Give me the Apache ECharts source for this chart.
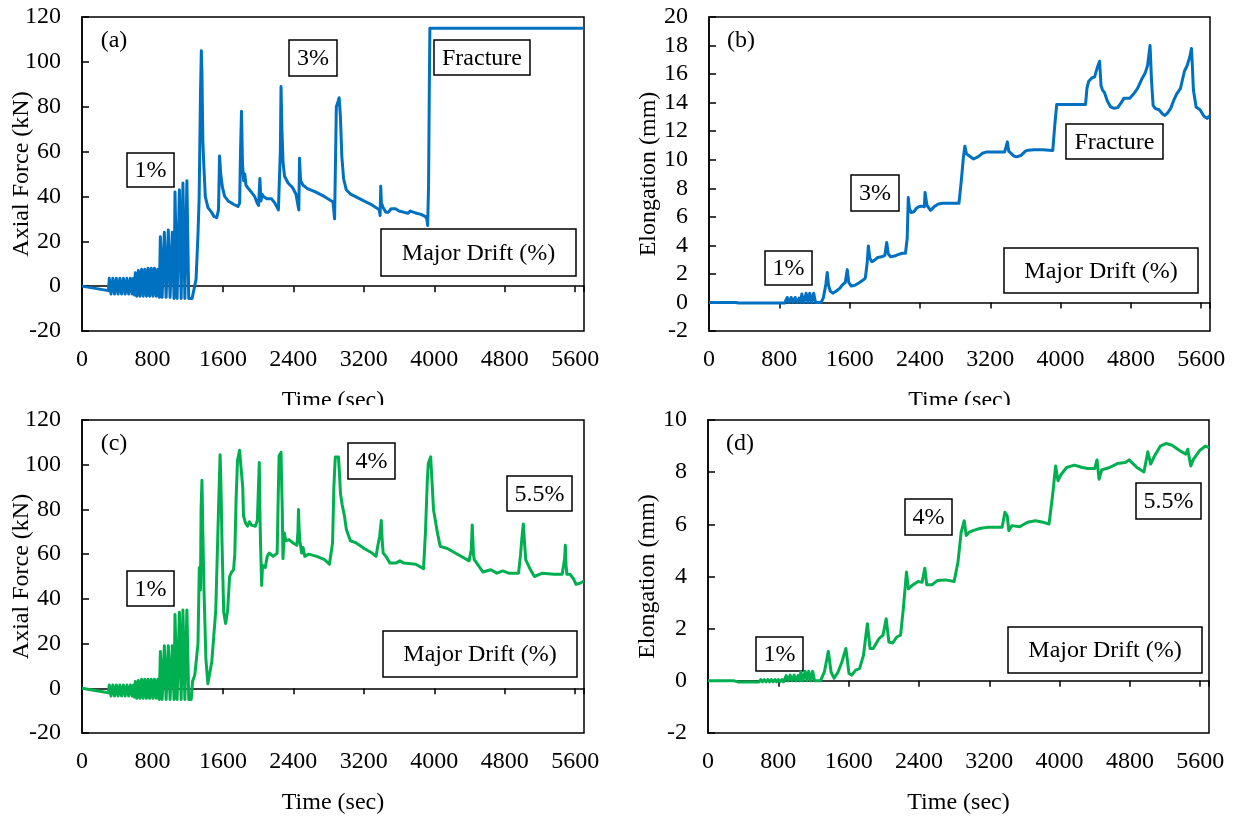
<!DOCTYPE html>
<html>
<head>
<meta charset="utf-8">
<script src="https://cdn.jsdelivr.net/npm/echarts@6/dist/echarts.min.js"></script>
<style>
html,body{margin:0;padding:0;background:#fff;}
#chart{width:1233px;height:818px;}
</style>
</head>
<body>
<div id="chart"></div>
<script>
// ---------------- DATA ----------------
const timeTicks = [0, 800, 1600, 2400, 3200, 4000, 4800, 5600];
const panelLetters = ['(a)', '(b)', '(c)', '(d)'];
const yTitles = ['Axial Force (kN)', 'Elongation (mm)', 'Axial Force (kN)', 'Elongation (mm)'];
const xTitle = 'Time (sec)';

// (a) Axial force, specimen 1 (kN) — [time s, value]
const forceA = [
[0,0],[300,-2],
[310,3.5],[330,-3.5],[350,3.5],[370,-3.5],[390,3.5],[410,-3.5],[430,3.5],[450,-3.5],[470,3.5],[490,-3.5],[510,3.5],[530,-3.5],[550,3.5],[570,-3.5],[585,3.5],[597,-4],
[605,6],[622,-4.5],[640,7],[658,-4.5],[677,7.5],[695,-4.5],[713,7.5],[732,-4.5],[750,8],[768,-4.5],[787,8],[805,-4.5],[823,8],[842,-4.5],[860,7.5],[877,-5],
[890,22],[910,-5],[935,24],[955,-5],[980,25],[1000,-5],[1025,24],[1045,-5.5],
[1056,42],[1080,-5.5],[1106,43],[1126,-5.5],[1146,46],[1168,-5.5],[1191,47],[1212,-5.5],[1250,-5.5],[1272,-5],
[1295,3],[1317,23],[1330,39],[1345,85],[1355,105],[1362,95],[1372,65],[1382,55],[1400,40],[1430,35],[1470,33],[1500,31],[1530,30.5],[1550,34],[1562,58],[1575,50],[1595,44],[1620,40],[1660,38],[1720,36.5],[1770,35.5],[1790,37],[1800,60],[1811,78],[1822,55],[1835,47],[1848,50],[1862,45],[1880,44],[1920,42],[1960,40],[1990,37],[2005,36],[2020,48],[2032,38],[2045,41],[2060,40],[2100,39],[2150,39],[2190,37],[2230,34],[2245,33.5],[2252,60],[2260,89],[2270,70],[2283,55],[2300,49],[2340,46],[2390,44],[2430,41],[2452,36],[2462,34],[2470,57],[2482,47],[2510,45],[2560,43.5],[2650,42],[2750,40],[2810,38.5],[2850,37.5],[2868,30],[2880,60],[2888,80],[2905,82],[2920,84],[2935,75],[2950,58],[2970,48],[3000,43],[3050,41],[3100,40],[3200,38],[3280,36.5],[3340,35],[3375,34],[3385,31.5],[3392,44.5],[3400,37],[3420,35],[3450,33],[3480,33],[3510,34.5],[3560,34.5],[3600,33.5],[3650,33],[3700,32.5],[3730,33.5],[3760,33],[3800,32.5],[3850,32],[3900,31],[3915,30],[3925,27],[3935,45],[3943,85],[3950,115],[5700,115]
];

// (b) Elongation, specimen 1 (mm)
const elongB = [
[0,0],[300,0],
[320,0.06],[340,-0.04],[360,0.06],[380,-0.04],[400,0.06],[420,-0.04],[440,0.06],[460,-0.04],[480,0.06],[500,-0.04],[520,0.06],[540,-0.04],[560,0.06],[580,-0.04],[600,0.08],[620,-0.04],[640,0.08],[660,-0.04],[680,0.08],[700,-0.04],[720,0.08],[740,-0.04],[760,0.08],[780,-0.04],[800,0.08],[820,-0.04],[840,0.08],[860,-0.04],[880,0],
[890,0.35],[910,0],[935,0.35],[955,0],[980,0.35],[1000,0],[1025,0.3],[1045,0],
[1056,0.6],[1080,0],[1106,0.65],[1126,0],[1146,0.65],[1168,0],[1191,0.65],[1212,0],[1275,0],
[1300,0.3],[1330,1.3],[1345,2.1],[1360,1.2],[1380,0.8],[1409,0.65],[1450,0.8],[1490,1.0],[1520,1.25],[1550,1.4],[1573,2.3],[1590,1.4],[1618,1.15],[1660,1.2],[1700,1.35],[1750,1.55],[1778,1.7],[1800,2.8],[1813,3.95],[1830,3.1],[1853,2.85],[1890,3.0],[1920,3.15],[1964,3.2],[2000,3.3],[2022,4.2],[2040,3.4],[2067,3.2],[2110,3.25],[2150,3.35],[2200,3.45],[2235,3.45],[2255,4.5],[2267,7.35],[2280,6.6],[2298,6.3],[2330,6.35],[2360,6.6],[2387,6.7],[2420,6.75],[2450,6.7],[2458,7.7],[2467,7.7],[2480,6.8],[2520,6.45],[2560,6.7],[2609,6.9],[2660,6.95],[2750,6.95],[2844,6.95],[2870,8.5],[2895,10.2],[2911,10.95],[2930,10.4],[2955,10.3],[3009,10.05],[3060,10.2],[3110,10.45],[3164,10.55],[3250,10.55],[3364,10.55],[3380,10.6],[3395,11.25],[3410,10.6],[3431,10.5],[3470,10.25],[3497,10.2],[3550,10.3],[3600,10.6],[3631,10.67],[3700,10.7],[3800,10.7],[3911,10.65],[3935,12.5],[3956,13.87],[4284,13.87],[4300,15.0],[4320,15.5],[4360,15.75],[4387,15.8],[4420,16.5],[4444,16.9],[4460,15.2],[4476,14.9],[4500,14.7],[4533,14.1],[4570,13.7],[4609,13.6],[4650,13.65],[4690,14.0],[4720,14.3],[4787,14.3],[4830,14.6],[4876,15.0],[4920,15.6],[4964,16.1],[4990,16.6],[5018,18.0],[5035,15.5],[5053,13.8],[5076,13.6],[5120,13.5],[5160,13.2],[5187,13.1],[5220,13.3],[5253,13.6],[5290,14.2],[5320,14.6],[5364,15.0],[5409,16.2],[5440,16.6],[5470,17.2],[5489,17.8],[5500,16.5],[5511,14.9],[5542,13.7],[5587,13.5],[5631,13.05],[5667,12.9],[5700,13.1]
];

// (c) Axial force, specimen 2 (kN)
const forceC = [
[0,0],[300,-2],
[310,1.5],[330,-3.5],[350,1.5],[370,-3.5],[390,1.5],[410,-3.5],[430,1.5],[450,-3.5],[470,1.5],[490,-3.5],[510,1.5],[530,-3.5],[550,1.5],[570,-3.5],[585,1.5],[597,-4],
[605,3],[622,-4.5],[640,3.5],[658,-4.5],[677,4],[695,-4.5],[713,4],[732,-4.5],[750,4],[768,-4.5],[787,4],[805,-4.5],[823,4],[842,-4.5],[860,4],[877,-5],
[890,16.5],[910,-5],[935,19],[955,-5],[980,19],[1000,-5],[1025,19],[1045,-5],
[1056,33],[1080,-5],[1106,34],[1126,-5],[1146,35],[1168,-5],[1191,35],[1212,-5],[1240,-5],
[1255,3],[1281,6],[1317,20],[1332,54],[1345,44],[1352,80],[1362,93],[1372,70],[1384,46],[1407,13],[1429,2],[1443,1.5],[1474,12],[1519,35],[1550,80],[1568,104.5],[1578,90],[1590,65],[1609,34],[1631,29],[1654,35],[1676,50],[1699,52],[1721,53],[1735,60],[1750,85],[1766,102],[1789,106.5],[1811,106],[1825,90],[1834,77],[1856,74],[1879,72.5],[1901,74.5],[1923,73],[1968,72.5],[1991,75],[2008,95],[2013,101],[2020,80],[2027,65],[2040,46],[2050,55],[2081,54],[2103,59],[2126,60.5],[2171,59],[2216,60.5],[2230,90],[2238,104],[2260,105.5],[2268,90],[2274,80],[2282,58],[2287,57.5],[2296,69.5],[2314,66],[2350,66.5],[2395,65],[2440,64],[2452,70],[2458,80],[2465,72],[2472,66.5],[2494,60.5],[2510,63],[2530,59],[2575,60],[2665,59],[2755,57.5],[2809,55.5],[2845,65],[2860,90],[2876,103.5],[2912,103.5],[2925,95],[2935,87],[2955,82],[2980,77],[3002,71],[3047,66],[3114,65],[3204,62.5],[3294,60.5],[3339,59],[3360,64],[3380,68],[3398,75],[3410,65],[3420,60.5],[3451,59],[3496,56],[3564,56],[3609,57],[3654,56],[3789,55.5],[3878,53.5],[3900,70],[3920,92],[3932,100.5],[3959,103.5],[3975,92],[3991,80],[4036,69.5],[4067,63.5],[4148,62.5],[4238,60.5],[4328,58.5],[4395,57],[4420,62],[4431,73],[4445,60],[4454,57.5],[4508,54.5],[4553,52],[4642,53],[4710,51.5],[4778,52.5],[4845,51.5],[4957,51.5],[4980,60],[4993,66.5],[5011,73.5],[5025,65],[5038,57.5],[5092,53],[5137,50],[5227,51.5],[5362,51],[5452,51],[5480,58],[5488,64],[5496,55],[5506,51],[5541,51],[5580,49],[5609,46.5],[5654,47],[5700,48]
];

// (d) Elongation, specimen 2 (mm)
const elongD = [
[0,0],[300,0],
[320,0.03],[340,-0.04],[360,0.03],[380,-0.04],[400,0.03],[420,-0.04],[440,0.03],[460,-0.04],[480,0.03],[500,-0.04],[520,0.03],[540,-0.04],[560,0.03],[580,-0.04],[600,0.05],[620,-0.04],[640,0.05],[660,-0.04],[680,0.05],[700,-0.04],[720,0.05],[740,-0.04],[760,0.05],[780,-0.04],[800,0.05],[820,-0.04],[840,0.05],[860,-0.04],[880,0],
[890,0.2],[910,0],[935,0.22],[955,0],[980,0.22],[1000,0],[1025,0.2],[1045,0],
[1056,0.35],[1080,0],[1106,0.37],[1126,0],[1146,0.37],[1168,0],[1191,0.37],[1212,0],[1280,0],
[1324,0.34],[1369,1.13],[1400,0.34],[1435,0.1],[1480,0.34],[1524,0.73],[1569,1.24],[1604,0.28],[1636,0.22],[1680,0.41],[1724,0.47],[1769,0.98],[1813,2.19],[1844,1.24],[1880,1.24],[1946,1.62],[1991,1.75],[2027,2.38],[2058,1.49],[2102,1.45],[2147,1.68],[2191,1.75],[2222,2.76],[2258,4.17],[2280,3.53],[2324,3.66],[2391,3.81],[2436,3.78],[2467,4.32],[2489,3.68],[2547,3.68],[2613,3.85],[2702,3.87],[2800,3.81],[2844,4.55],[2880,5.69],[2915,6.14],[2938,5.57],[2969,5.69],[3013,5.76],[3102,5.85],[3191,5.89],[3280,5.89],[3346,5.89],[3378,6.46],[3404,6.33],[3422,5.76],[3458,5.95],[3546,5.91],[3635,6.08],[3724,6.14],[3813,6.08],[3880,6.01],[3924,7.22],[3955,8.24],[3982,7.67],[4013,7.89],[4080,8.18],[4169,8.27],[4258,8.18],[4324,8.14],[4400,8.14],[4426,8.47],[4449,7.73],[4480,8.09],[4569,8.18],[4658,8.33],[4747,8.37],[4791,8.47],[4880,8.18],[4960,8.01],[5004,8.78],[5036,8.31],[5080,8.62],[5147,9.0],[5213,9.1],[5280,9.03],[5369,8.82],[5436,8.69],[5458,8.88],[5493,8.24],[5524,8.5],[5591,8.82],[5658,9.0],[5700,8.94]
];

// Axis ranges
const yMin = [-20, -2, -20, -2];
const yMax = [120, 20, 120, 10];
const yStep = [20, 2, 20, 2];

// Annotation texts per panel
const notesA = ['1%', '3%', 'Fracture', 'Major Drift (%)'];
const notesB = ['1%', '3%', 'Fracture', 'Major Drift (%)'];
const notesC = ['1%', '4%', '5.5%', 'Major Drift (%)'];
const notesD = ['1%', '4%', '5.5%', 'Major Drift (%)'];

// ---------------- LAYOUT / STYLE ----------------
const FONT = '"Liberation Serif", "Times New Roman", serif';
const BLUE = '#0070C0';
const GREEN = '#00B050';
const grids = [
  {left: 82, top: 17, width: 502, height: 314},
  {left: 709, top: 17, width: 501, height: 314},
  {left: 82, top: 420, width: 502, height: 313},
  {left: 708, top: 420, width: 501, height: 313}
];
const seriesData = [forceA, elongB, forceC, elongD];
const colors = [BLUE, BLUE, GREEN, GREEN];

const xAxes = [], yAxes = [], series = [];
grids.forEach((g, i) => {
  xAxes.push({
    gridIndex: i, type: 'value', min: 0, max: 5700, interval: 800, position: 'bottom',
    axisLine: {show: true, onZero: true, lineStyle: {color: '#000', width: 1.5}},
    axisTick: {show: true, inside: false, length: 6, lineStyle: {color: '#000', width: 1.5}},
    axisLabel: {show: false}, splitLine: {show: false}
  });
  xAxes.push({
    gridIndex: i, type: 'value', min: 0, max: 5700, interval: 800, position: 'bottom',
    axisLine: {show: false, onZero: false}, axisTick: {show: false}, splitLine: {show: false},
    axisLabel: {show: true, fontSize: 24, color: '#000', fontFamily: FONT, margin: 17, showMaxLabel: false,
      formatter: v => timeTicks.indexOf(v) >= 0 ? String(v) : ''},
    name: xTitle, nameLocation: 'middle', nameGap: 58, nameMoveOverlap: false,
    nameTextStyle: {fontSize: 24, color: '#000', fontFamily: FONT}
  });
  yAxes.push({
    gridIndex: i, type: 'value', min: yMin[i], max: yMax[i], interval: yStep[i],
    axisLine: {show: true, onZero: false, lineStyle: {color: '#000', width: 1.5}},
    axisTick: {show: true, inside: true, length: 7, lineStyle: {color: '#000', width: 1.5}},
    axisLabel: {fontSize: 24, color: '#000', fontFamily: FONT, margin: 21},
    splitLine: {show: false},
    name: yTitles[i], nameLocation: 'middle', nameGap: 48, nameMoveOverlap: false,
    nameTextStyle: {fontSize: 24, color: '#000', fontFamily: FONT}
  });
  series.push({
    type: 'line', xAxisIndex: 2 * i, yAxisIndex: i, data: seriesData[i],
    showSymbol: false, symbol: 'none', smooth: false,
    lineStyle: {color: colors[i], width: 3, join: 'round'},
    itemStyle: {color: colors[i]}, z: 3
  });
});

// annotation boxes: [x1, y1, x2, y2]
function boxes(texts, rects) {
  return texts.map((t, k) => {
    const r = rects[k];
    return {
      type: 'group', z: 100,
      children: [
        {type: 'rect', shape: {x: r[0], y: r[1], width: r[2] - r[0], height: r[3] - r[1]},
         style: {fill: '#fff', stroke: '#000', lineWidth: 1.5}},
        {type: 'text', x: (r[0] + r[2]) / 2, y: (r[1] + r[3]) / 2 + 1,
         style: {text: t, font: '24px ' + FONT, fill: '#000', align: 'center', verticalAlign: 'middle'}}
      ]
    };
  });
}
const graphics = [].concat(
  boxes(notesA, [[127,153,174,187],[289,40,337,76],[434,40,530,75],[381,229,576,276]]),
  boxes(notesB, [[765,251,812,285],[851,175,899,211],[1066,124,1163,159],[1004,248,1198,293]]),
  boxes(notesC, [[127,571,174,606],[348,443,395,479],[507,476,572,511],[383,631,577,677]]),
  boxes(notesD, [[756,637,803,671],[905,499,952,535],[1136,483,1201,519],[1008,627,1202,673]]),
  panelLetters.map((p, i) => ({
    type: 'text', z: 100,
    x: grids[i].left + 32, y: grids[i].top + 24,
    style: {text: p, font: '24px ' + FONT, fill: '#000', align: 'center', verticalAlign: 'middle'}
  })),
  // the top row's x-axis titles are cut off by the panel crop in the original figure
  [{type: 'rect', z: 200, silent: true, shape: {x: 250, y: 405, width: 170, height: 9}, style: {fill: '#fff'}},
   {type: 'rect', z: 200, silent: true, shape: {x: 875, y: 405, width: 170, height: 9}, style: {fill: '#fff'}}]
);

const chart = echarts.init(document.getElementById('chart'), null, {renderer: 'canvas'});
chart.setOption({
  animation: false,
  backgroundColor: '#fff',
  grid: grids.map(g => Object.assign({show: true, borderColor: '#000', borderWidth: 1.5, backgroundColor: 'transparent', containLabel: false, outerBoundsMode: 'none'}, g)),
  xAxis: xAxes,
  yAxis: yAxes,
  series: series,
  graphic: graphics
});
</script>
</body>
</html>
